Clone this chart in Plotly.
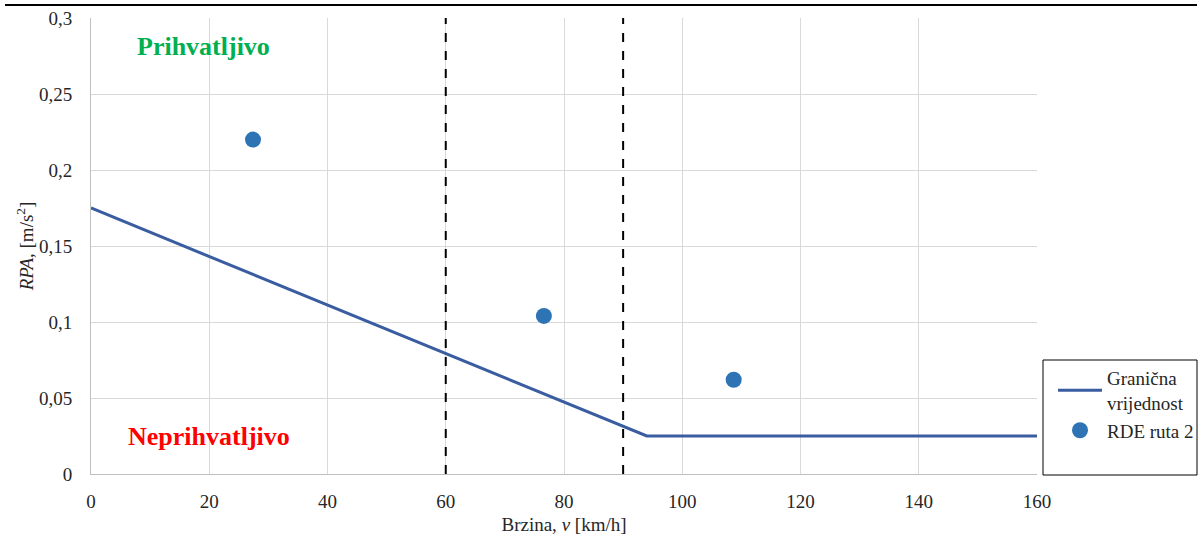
import plotly.graph_objects as go

# Data
limit_x = [0, 94, 160]
limit_y = [0.175, 0.025, 0.025]
rde_x = [27.4, 76.6, 108.7]
rde_y = [0.220, 0.104, 0.062]
dash_x = [60, 90]
x_ticks = [0, 20, 40, 60, 80, 100, 120, 140, 160]
y_ticks = [0, 0.05, 0.1, 0.15, 0.2, 0.25, 0.3]
y_tick_text = ["0", "0,05", "0,1", "0,15", "0,2", "0,25", "0,3"]

FONT = "Liberation Serif"
TXT = "#262626"
W, H = 1200, 538

fig = go.Figure()
fig.add_trace(go.Scatter(
    x=limit_x, y=limit_y, mode="lines", name="Granična<br>vrijednost",
    line=dict(color="#3A5CA0", width=3),
))
fig.add_trace(go.Scatter(
    x=rde_x, y=rde_y, mode="markers", name="RDE ruta 2",
    marker=dict(color="#2E74B5", size=16),
))

for dx in dash_x:
    fig.add_shape(type="line", x0=dx, x1=dx, y0=0, y1=0.3, xref="x", yref="y",
                  line=dict(color="black", width=2, dash="dash"))

# legend border
fig.add_shape(type="rect", xref="paper", yref="paper",
              x0=(1043 - 91) / 946, x1=(1197 - 91) / 946,
              y0=(474 - 475) / 456, y1=(474 - 360) / 456,
              line=dict(color="black", width=1), fillcolor="rgba(0,0,0,0)")
# top rule
fig.add_shape(type="line", xref="paper", yref="paper",
              x0=(5 - 91) / 946, x1=(1197 - 91) / 946,
              y0=(474 - 5) / 456, y1=(474 - 5) / 456,
              line=dict(color="black", width=2))

fig.add_annotation(x=19.1, y=0.281, text="<b>Prihvatljivo</b>", showarrow=False,
                   font=dict(family=FONT, size=26, color="#00B050"))
fig.add_annotation(x=20.0, y=0.025, text="<b>Neprihvatljivo</b>", showarrow=False,
                   font=dict(family=FONT, size=26, color="#FF0000"))

fig.update_layout(
    width=W, height=H,
    margin=dict(l=91, r=163, t=18, b=64, autoexpand=False),
    paper_bgcolor="white", plot_bgcolor="white",
    font=dict(family=FONT, size=19, color=TXT),
    showlegend=True,
    legend=dict(xref="container", yref="container",
                x=1053 / W, y=(H - 359) / H, xanchor="left", yanchor="top",
                bgcolor="rgba(0,0,0,0)", borderwidth=0,
                font=dict(family=FONT, size=19, color=TXT),
                tracegroupgap=16, itemwidth=44),
    xaxis=dict(range=[0, 160], tickvals=x_ticks, showgrid=True, gridcolor="#D9D9D9",
               gridwidth=1, showline=True, linecolor="#BFBFBF", linewidth=1,
               zeroline=False, ticks="", ticklabelstandoff=10, automargin=False,
               tickfont=dict(family=FONT, size=19, color=TXT),
               title=dict(text="Brzina, <i>v</i> [km/h]", standoff=6,
                          font=dict(family=FONT, size=19, color=TXT))),
    yaxis=dict(range=[0, 0.3], tickvals=y_ticks, ticktext=y_tick_text, showgrid=True,
               gridcolor="#D9D9D9", gridwidth=1, showline=True, linecolor="#BFBFBF",
               linewidth=1, zeroline=False, ticks="", ticklabelstandoff=14, automargin=False,
               tickfont=dict(family=FONT, size=19, color=TXT),
               title=dict(text="<i>RPA</i>, [m/s<sup>2</sup>]", standoff=0,
                          font=dict(family=FONT, size=19, color=TXT))),
)

fig.write_html("out.html", config={"displayModeBar": False},
               post_script="document.body.style.margin='0';")
